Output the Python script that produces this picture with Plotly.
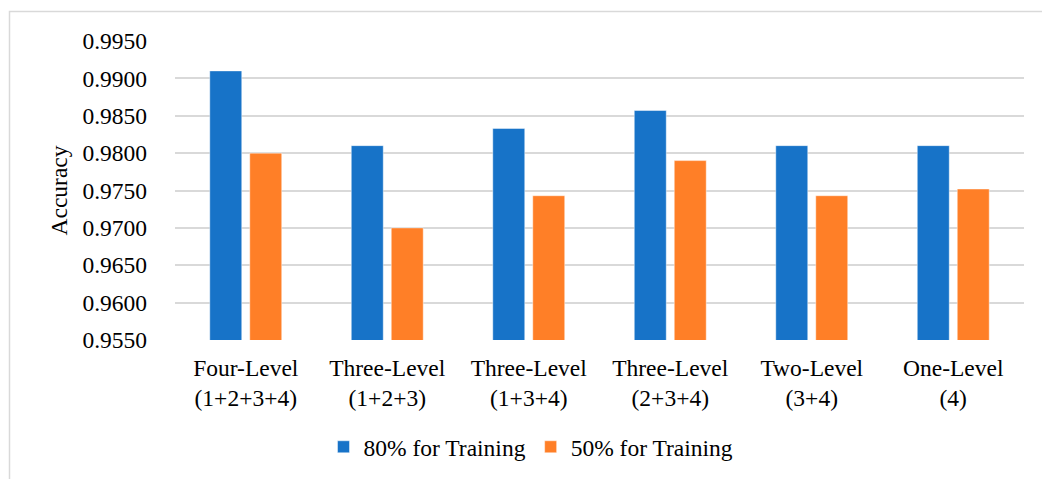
import plotly.graph_objects as go

categories = ["Four-Level<br>(1+2+3+4)", "Three-Level<br>(1+2+3)", "Three-Level<br>(1+3+4)",
              "Three-Level<br>(2+3+4)", "Two-Level<br>(3+4)", "One-Level<br>(4)"]
train80 = [0.9910, 0.9810, 0.9833, 0.9857, 0.9810, 0.9810]
train50 = [0.9800, 0.9700, 0.9743, 0.9790, 0.9743, 0.9752]
series_names = ["80% for Training", "50% for Training"]
tick_vals = [0.955, 0.960, 0.965, 0.970, 0.975, 0.980, 0.985, 0.990, 0.995]
tick_text = ["%.4f" % v for v in tick_vals]

FONT = "Liberation Serif"
W, H = 1042, 479
L, R, T, B = 175, 18, 41, 138
pw, ph = W - L - R, H - T - B

fig = go.Figure()
fig.add_trace(go.Bar(x=categories, y=train80, name=series_names[0],
                     marker=dict(color="#1773C8", line=dict(color="rgba(255,255,255,0.45)", width=1))))
fig.add_trace(go.Bar(x=categories, y=train50, name=series_names[1],
                     marker=dict(color="#FF7F27", line=dict(color="rgba(255,255,255,0.45)", width=1))))

def px_x(x):
    return (x - L) / pw

def px_y(y):
    return (H - B - y) / ph

fig.update_layout(
    width=W, height=H,
    margin=dict(l=L, r=R, t=T, b=B),
    paper_bgcolor="white", plot_bgcolor="white",
    barmode="group", bargap=0.435, bargroupgap=0.2,
    font=dict(family=FONT, size=23.5, color="#000000"),
    showlegend=True,
    legend=dict(orientation="h", x=px_x(531), xanchor="center", y=px_y(447), yanchor="middle",
                font=dict(family=FONT, size=23.5, color="#000000"), itemwidth=30,
                bgcolor="rgba(0,0,0,0)"),
    xaxis=dict(showgrid=False, showline=False, ticks="",
               tickfont=dict(family=FONT, size=23.5, color="#000000"),
               ticklabelstandoff=11, zeroline=False),
    yaxis=dict(range=[0.955, 0.995], tickvals=tick_vals, ticktext=tick_text,
               tickfont=dict(family=FONT, size=23.5, color="#000000"),
               showgrid=True, gridcolor="#D9D9D9", gridwidth=1.5, zeroline=False,
               showline=False, ticks="", ticklabelstandoff=27,
               title=dict(text="Accuracy", standoff=8, font=dict(family=FONT, size=23.5, color="#000000"))),
    shapes=[dict(type="rect", xref="paper", yref="paper",
                 x0=px_x(9.5), x1=px_x(1060), y0=px_y(11.5), y1=px_y(500),
                 line=dict(color="#D9D9D9", width=1.5), fillcolor="rgba(0,0,0,0)", layer="below")],
)

fig.write_html("out.html")
